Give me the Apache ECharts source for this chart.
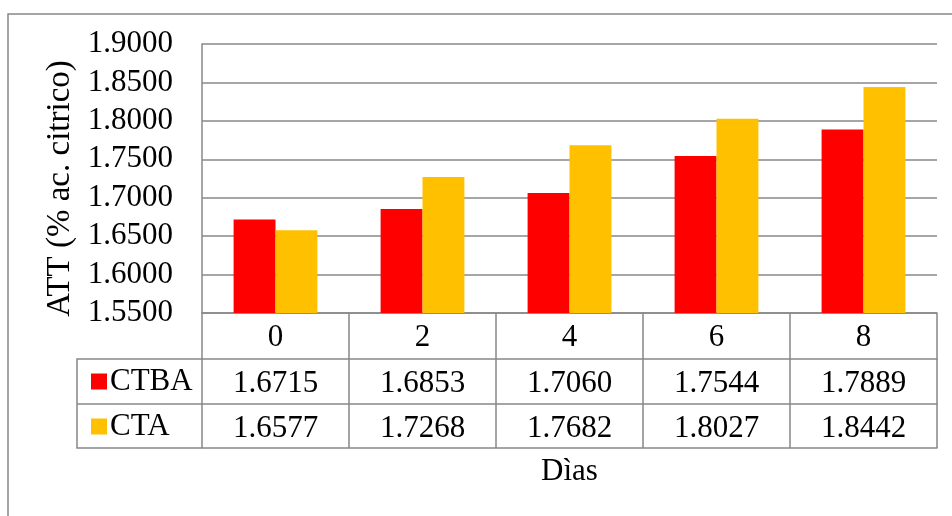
<!DOCTYPE html>
<html>
<head>
<meta charset="utf-8">
<script src="https://cdn.jsdelivr.net/npm/echarts@6/dist/echarts.min.js"></script>
<style>
  html, body { margin: 0; padding: 0; background: #fff; }
  #chart { width: 952px; height: 516px; }
</style>
</head>
<body>
<div id="chart"></div>
<script>
// data
const dias = ['0', '2', '4', '6', '8']
const ctba = [1.6715, 1.6853, 1.7060, 1.7544, 1.7889]
const cta = [1.6577, 1.7268, 1.7682, 1.8027, 1.8442]
const seriesNames = ['CTBA', 'CTA']

const font = 'Liberation Serif, Times New Roman, serif'
const gray = '#888888'
const gridLeft = 202
const gridRight = 15
const gridTop = 44
const gridBottom = 203
const rowH = [46, 45, 44]

const chart = echarts.init(document.getElementById('chart'))

// one category axis per table row, stacked below the plot with offset
function tableAxis(data, offset, tickLen, extra) {
  return Object.assign({
    type: 'category',
    data: data,
    position: 'bottom',
    offset: offset,
    axisLine: { show: true, lineStyle: { color: gray, width: 1.5 } },
    axisTick: { show: true, length: tickLen, lineStyle: { color: gray, width: 1.5 } },
    axisLabel: { show: true, margin: 9, color: '#000', fontSize: 31, fontFamily: font },
    splitLine: { show: false }
  }, extra || {})
}

const fmt = v => v.toFixed(4)
const yTop = 516 - gridBottom

chart.setOption({
  animation: false,
  textStyle: { fontFamily: font },
  grid: { left: gridLeft, right: gridRight, top: gridTop, bottom: gridBottom },
  legend: {
    data: seriesNames,
    orient: 'vertical',
    left: 86,
    top: 361,
    icon: 'rect',
    itemWidth: 16,
    itemHeight: 16,
    itemGap: 14,
    itemStyle: { borderWidth: 0 },
    textStyle: { fontSize: 31, fontFamily: font, color: '#000', lineHeight: 30, padding: [0, 0, 0, -2] },
    selectedMode: false
  },
  xAxis: [
    tableAxis(dias, 0, rowH[0], {
      name: 'Dìas',
      nameLocation: 'middle',
      nameGap: 143,
      nameTextStyle: { fontSize: 31, fontFamily: font, color: '#000' }
    }),
    tableAxis(ctba.map(fmt), rowH[0], rowH[1]),
    tableAxis(cta.map(fmt), rowH[0] + rowH[1], rowH[2]),
    tableAxis(dias, rowH[0] + rowH[1] + rowH[2], 0, {
      axisTick: { show: false },
      axisLabel: { show: false }
    })
  ],
  yAxis: {
    type: 'value',
    min: 1.55,
    max: 1.9,
    interval: 0.05,
    name: 'ATT (% ac. citrico)',
    nameLocation: 'middle',
    nameGap: 122,
    nameTextStyle: { fontSize: 33, fontFamily: font, color: '#000', padding: [0, 20, 0, 0] },
    axisLine: { show: true, lineStyle: { color: gray, width: 1.5 } },
    axisTick: { show: false },
    axisLabel: {
      margin: 29,
      color: '#000',
      fontSize: 31,
      fontFamily: font,
      formatter: v => v.toFixed(4)
    },
    splitLine: { lineStyle: { color: gray, width: 1.5 } }
  },
  series: [
    {
      name: 'CTBA',
      type: 'bar',
      data: ctba,
      xAxisIndex: 0,
      barGap: '0%',
      barCategoryGap: '43%',
      itemStyle: { color: '#ff0000' }
    },
    {
      name: 'CTA',
      type: 'bar',
      data: cta,
      xAxisIndex: 0,
      itemStyle: { color: '#ffc000' }
    }
  ],
  graphic: [
    // outer chart border
    {
      type: 'rect',
      shape: { x: 8, y: 14, width: 1000, height: 600 },
      style: { fill: 'none', stroke: gray, lineWidth: 1.5 },
      silent: true
    },
    // legend column of the data table
    {
      type: 'polyline',
      shape: {
        points: [
          [gridLeft, yTop + rowH[0]],
          [77, yTop + rowH[0]],
          [77, yTop + rowH[0] + rowH[1] + rowH[2]],
          [gridLeft, yTop + rowH[0] + rowH[1] + rowH[2]]
        ]
      },
      style: { fill: 'none', stroke: gray, lineWidth: 1.5 },
      silent: true
    },
    {
      type: 'line',
      shape: { x1: 77, y1: yTop + rowH[0] + rowH[1], x2: gridLeft, y2: yTop + rowH[0] + rowH[1] },
      style: { stroke: gray, lineWidth: 1.5 },
      silent: true
    }
  ]
})
</script>
</body>
</html>
